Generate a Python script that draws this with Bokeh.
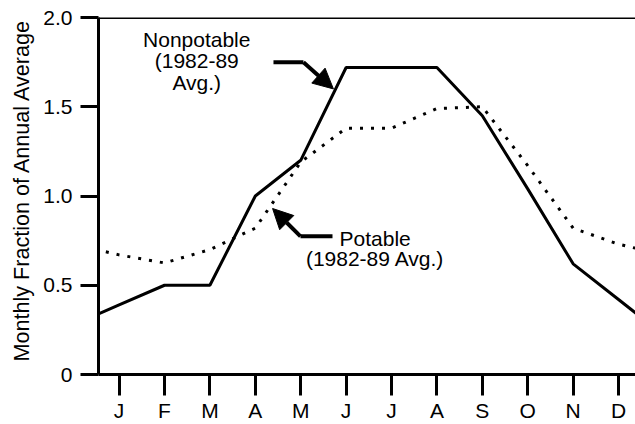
from bokeh.plotting import figure
from bokeh.models import FixedTicker, Span, Title, Arrow, NormalHead
from bokeh.core.properties import value
from bokeh.embed import file_html
from bokeh.resources import INLINE

# ---------------- data ----------------
months = ["J", "F", "M", "A", "M", "J", "J", "A", "S", "O", "N", "D"]
nonpotable = [0.39, 0.50, 0.50, 1.00, 1.20, 1.72, 1.72, 1.72, 1.45, 1.04, 0.62, 0.42]
potable = [0.67, 0.625, 0.70, 0.82, 1.19, 1.38, 1.38, 1.49, 1.50, 1.17, 0.82, 0.73]
# values of the neighbouring months (previous Dec, next Jan) that the lines run toward
nonpotable_prev_dec, nonpotable_next_jan = 0.28, 0.22
potable_prev_dec, potable_next_jan = 0.73, 0.67
y_ticks = [0, 0.5, 1.0, 1.5, 2.0]
y_tick_labels = ["0", "0.5", "1.0", "1.5", "2.0"]

FONT = "Liberation Sans"
FS = "21px"

x_idx = list(range(-1, len(months) + 1))
np_vals = [nonpotable_prev_dec] + nonpotable + [nonpotable_next_jan]
pt_vals = [potable_prev_dec] + potable + [potable_next_jan]

p = figure(width=635, height=424, output_backend="svg", toolbar_location=None,
           x_range=(-0.454, 11.374), y_range=(0, 2.0),
           min_border_left=98, min_border_right=0, min_border_top=17, min_border_bottom=48)
p.outline_line_color = None
p.grid.visible = False
p.background_fill_color = "white"
p.border_fill_color = "white"

# axes
for ax in (p.xaxis[0], p.yaxis[0]):
    ax.axis_line_width = 3
    ax.axis_line_color = "black"
    ax.major_tick_line_width = 3
    ax.major_tick_line_color = "black"
    ax.major_tick_in = 0
    ax.minor_tick_line_color = None
    ax.major_label_text_font = FONT
    ax.major_label_text_font_size = FS
    ax.major_label_text_color = "black"

p.xaxis.ticker = FixedTicker(ticks=list(range(len(months))))
p.xaxis.major_label_overrides = {i: m for i, m in enumerate(months)}
p.xaxis.major_tick_out = 21
p.xaxis.major_label_standoff = 3

p.yaxis.ticker = FixedTicker(ticks=y_ticks)
p.yaxis.major_label_overrides = {t: s for t, s in zip(y_ticks, y_tick_labels)}
p.yaxis.major_tick_out = 18
p.yaxis.major_label_standoff = 8

# top border line
p.add_layout(Span(location=2.0, dimension="width", line_color="black", line_width=3))

# y-axis title
p.add_layout(Title(text="Monthly Fraction of Annual Average", align="left", offset=13,
                   text_font=FONT, text_font_size="21.6px", text_font_style="normal",
                   text_color="black", standoff=13), "left")

# series
p.line(x_idx, pt_vals, line_color="black", line_width=3, line_dash="3 8")
p.line(x_idx, np_vals, line_color="black", line_width=3)

# annotations
p.text(x=[1.71, 1.71, 1.71], y=[1.877, 1.757, 1.637],
       text=["Nonpotable", "(1982-89", "Avg.)"],
       text_align="center", text_baseline="alphabetic",
       text_font=value(FONT), text_font_size=FS, text_color="black")
p.text(x=[5.64, 5.64], y=[0.76, 0.65],
       text=["Potable", "(1982-89 Avg.)"],
       text_align="center", text_baseline="alphabetic",
       text_font=value(FONT), text_font_size=FS, text_color="black")

# arrow to nonpotable line
p.line([3.40, 4.06], [1.749, 1.749], line_color="black", line_width=4)
p.add_layout(Arrow(x_start=4.06, y_start=1.749, x_end=4.72, y_end=1.60,
                   line_width=4, line_color="black",
                   end=NormalHead(size=20, fill_color="black", line_color="black")))
# arrow to potable line
p.line([4.70, 3.995], [0.774, 0.774], line_color="black", line_width=4)
p.add_layout(Arrow(x_start=3.995, y_start=0.774, x_end=3.38, y_end=0.93,
                   line_width=4, line_color="black",
                   end=NormalHead(size=20, fill_color="black", line_color="black")))

open("out.html", "w").write(file_html(p, INLINE))
